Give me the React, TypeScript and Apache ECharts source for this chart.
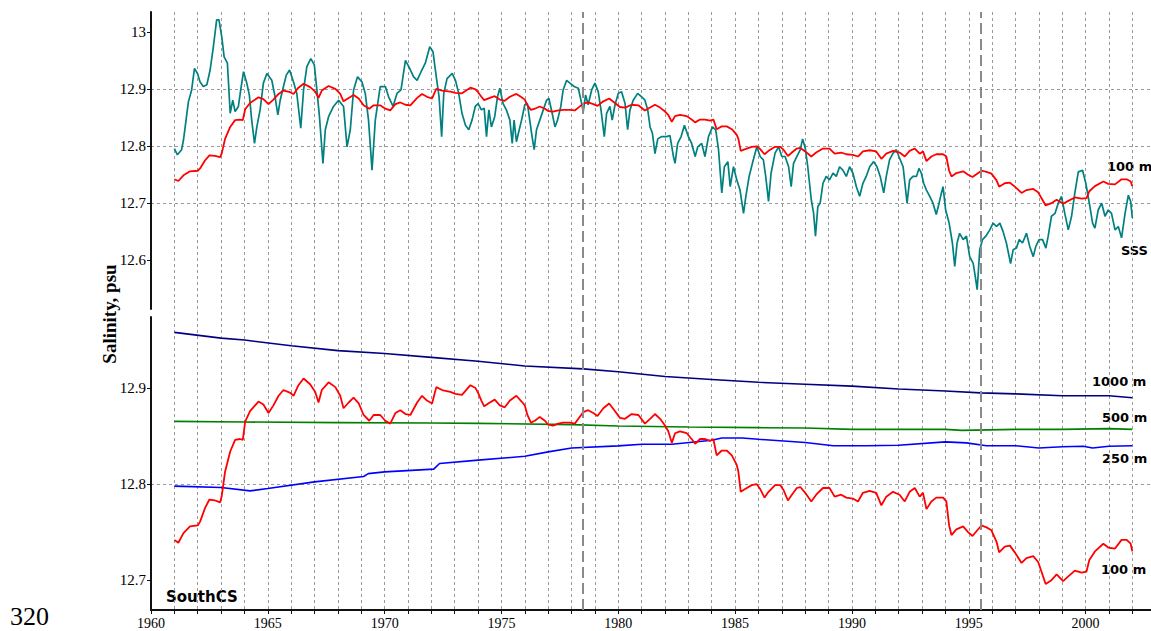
import React, { useEffect, useRef } from "react";
import * as echarts from "echarts";

// ---- data ----
const years100 = [1961.0,1961.17,1961.39,1961.67,1962.0,1962.1,1962.31,1962.5,1962.74,1962.96,1963.03,1963.17,1963.39,1963.6,1963.81,1963.93,1964.03,1964.24,1964.6,1964.81,1965.03,1965.24,1965.46,1965.67,1965.96,1966.1,1966.31,1966.53,1966.81,1967.03,1967.17,1967.31,1967.6,1967.89,1968.1,1968.24,1968.46,1968.67,1968.89,1969.1,1969.34,1969.53,1969.81,1970.03,1970.24,1970.46,1970.67,1970.89,1971.1,1971.39,1971.6,1971.81,1972.03,1972.21,1972.46,1972.81,1973.03,1973.31,1973.67,1973.89,1974.0,1974.14,1974.26,1974.5,1974.71,1974.93,1975.14,1975.36,1975.64,1975.86,1976.0,1976.11,1976.26,1976.43,1976.64,1976.86,1977.0,1977.21,1977.43,1977.64,1977.93,1978.14,1978.29,1978.5,1978.71,1978.93,1979.11,1979.36,1979.61,1979.83,1980.07,1980.29,1980.57,1980.86,1981.14,1981.36,1981.57,1981.79,1982.0,1982.14,1982.29,1982.43,1982.64,1982.93,1983.14,1983.29,1983.5,1983.71,1983.93,1984.07,1984.21,1984.43,1984.64,1984.86,1985.07,1985.14,1985.24,1985.43,1985.71,1985.93,1986.07,1986.26,1986.43,1986.71,1986.93,1987.07,1987.26,1987.43,1987.64,1987.79,1988.0,1988.26,1988.47,1988.76,1989.04,1989.26,1989.54,1989.76,1990.04,1990.26,1990.47,1990.76,1991.04,1991.26,1991.47,1991.76,1992.04,1992.26,1992.47,1992.69,1992.9,1993.04,1993.19,1993.4,1993.61,1993.9,1994.04,1994.16,1994.26,1994.47,1994.76,1994.97,1995.16,1995.33,1995.54,1995.76,1995.97,1996.19,1996.3,1996.54,1996.76,1996.97,1997.26,1997.47,1997.76,1997.97,1998.11,1998.29,1998.54,1998.76,1999.04,1999.26,1999.54,1999.83,2000.04,2000.16,2000.4,2000.76,2000.97,2001.26,2001.54,2001.76,2001.93,2002.0];
const sal100 = [12.742,12.739,12.749,12.756,12.757,12.761,12.775,12.784,12.783,12.781,12.788,12.813,12.834,12.846,12.847,12.846,12.865,12.876,12.886,12.883,12.874,12.882,12.892,12.898,12.895,12.892,12.903,12.910,12.904,12.896,12.885,12.898,12.906,12.901,12.892,12.879,12.885,12.890,12.884,12.872,12.866,12.872,12.872,12.866,12.863,12.874,12.877,12.873,12.872,12.885,12.892,12.887,12.884,12.901,12.898,12.896,12.894,12.893,12.903,12.900,12.895,12.887,12.881,12.885,12.888,12.882,12.880,12.887,12.892,12.886,12.882,12.872,12.864,12.866,12.870,12.866,12.862,12.861,12.863,12.864,12.864,12.863,12.868,12.875,12.877,12.874,12.871,12.879,12.884,12.877,12.869,12.868,12.873,12.872,12.863,12.868,12.873,12.868,12.861,12.855,12.843,12.853,12.855,12.853,12.847,12.842,12.847,12.847,12.845,12.847,12.830,12.835,12.835,12.830,12.820,12.813,12.792,12.795,12.799,12.800,12.795,12.786,12.792,12.799,12.799,12.794,12.783,12.789,12.796,12.797,12.791,12.782,12.789,12.796,12.796,12.787,12.789,12.786,12.785,12.782,12.791,12.793,12.791,12.778,12.787,12.792,12.789,12.782,12.792,12.796,12.787,12.791,12.774,12.782,12.786,12.786,12.782,12.757,12.747,12.753,12.756,12.750,12.746,12.751,12.757,12.755,12.752,12.740,12.729,12.735,12.736,12.729,12.718,12.723,12.725,12.719,12.709,12.696,12.700,12.706,12.699,12.704,12.710,12.708,12.709,12.721,12.730,12.738,12.734,12.733,12.742,12.742,12.738,12.730];

const yearsSSS = [1961.0,1961.13,1961.31,1961.39,1961.5,1961.6,1961.74,1961.86,1961.99,1962.1,1962.24,1962.39,1962.53,1962.67,1962.81,1962.91,1963.03,1963.13,1963.27,1963.39,1963.5,1963.6,1963.74,1963.84,1963.96,1964.1,1964.21,1964.31,1964.43,1964.53,1964.67,1964.81,1964.96,1965.17,1965.31,1965.43,1965.53,1965.67,1965.79,1965.93,1966.1,1966.24,1966.41,1966.53,1966.67,1966.84,1966.99,1967.1,1967.21,1967.36,1967.46,1967.6,1967.81,1968.03,1968.24,1968.39,1968.53,1968.67,1968.84,1969.03,1969.17,1969.31,1969.46,1969.6,1969.81,1970.03,1970.17,1970.36,1970.53,1970.7,1970.89,1971.07,1971.24,1971.39,1971.56,1971.74,1971.93,1972.07,1972.21,1972.33,1972.44,1972.53,1972.67,1972.89,1973.03,1973.17,1973.31,1973.46,1973.6,1973.74,1973.88,1974.0,1974.14,1974.26,1974.36,1974.46,1974.57,1974.71,1974.83,1974.93,1975.07,1975.21,1975.36,1975.46,1975.54,1975.64,1975.76,1975.86,1976.0,1976.11,1976.21,1976.31,1976.4,1976.5,1976.64,1976.79,1976.93,1977.03,1977.17,1977.29,1977.4,1977.54,1977.64,1977.79,1977.93,1978.11,1978.29,1978.4,1978.5,1978.6,1978.71,1978.86,1979.0,1979.14,1979.26,1979.4,1979.5,1979.64,1979.74,1979.86,1980.0,1980.14,1980.29,1980.4,1980.5,1980.64,1980.83,1981.0,1981.14,1981.26,1981.36,1981.46,1981.57,1981.69,1981.86,1982.07,1982.21,1982.36,1982.43,1982.54,1982.69,1982.83,1983.0,1983.14,1983.29,1983.4,1983.57,1983.71,1983.86,1984.03,1984.17,1984.29,1984.43,1984.54,1984.69,1984.79,1984.93,1985.07,1985.21,1985.36,1985.46,1985.6,1985.74,1985.93,1986.07,1986.21,1986.31,1986.43,1986.54,1986.71,1986.86,1987.0,1987.14,1987.29,1987.4,1987.5,1987.64,1987.79,1987.89,1988.0,1988.11,1988.26,1988.36,1988.44,1988.54,1988.64,1988.76,1988.9,1989.04,1989.19,1989.33,1989.47,1989.61,1989.76,1989.9,1990.04,1990.19,1990.33,1990.47,1990.61,1990.76,1990.93,1991.07,1991.21,1991.36,1991.47,1991.61,1991.76,1991.9,1992.01,1992.19,1992.36,1992.47,1992.61,1992.76,1992.87,1992.97,1993.07,1993.19,1993.33,1993.47,1993.61,1993.73,1993.83,1993.9,1994.01,1994.16,1994.3,1994.4,1994.5,1994.61,1994.76,1994.9,1995.04,1995.19,1995.3,1995.36,1995.47,1995.59,1995.73,1995.9,1996.04,1996.19,1996.33,1996.47,1996.61,1996.79,1996.9,1997.04,1997.16,1997.3,1997.47,1997.61,1997.76,1997.87,1998.01,1998.16,1998.3,1998.4,1998.54,1998.69,1998.83,1998.97,1999.11,1999.26,1999.4,1999.54,1999.69,1999.87,2000.01,2000.16,2000.3,2000.4,2000.54,2000.69,2000.83,2000.97,2001.11,2001.26,2001.4,2001.54,2001.69,2001.83,2001.93,2002.0];
const salSSS = [12.796,12.785,12.794,12.811,12.846,12.878,12.899,12.937,12.928,12.913,12.905,12.908,12.934,12.975,13.022,13.022,12.992,12.957,12.946,12.858,12.881,12.861,12.870,12.899,12.931,12.911,12.890,12.846,12.805,12.834,12.864,12.911,12.928,12.916,12.887,12.855,12.881,12.905,12.925,12.934,12.913,12.893,12.832,12.899,12.940,12.954,12.943,12.899,12.852,12.770,12.829,12.852,12.870,12.881,12.870,12.799,12.829,12.899,12.922,12.913,12.893,12.846,12.758,12.846,12.905,12.905,12.887,12.870,12.893,12.899,12.951,12.937,12.922,12.916,12.931,12.946,12.975,12.966,12.922,12.887,12.817,12.893,12.919,12.928,12.916,12.893,12.858,12.837,12.829,12.846,12.870,12.875,12.864,12.867,12.817,12.864,12.834,12.852,12.887,12.902,12.875,12.864,12.846,12.805,12.846,12.808,12.829,12.846,12.873,12.875,12.846,12.817,12.794,12.829,12.846,12.864,12.881,12.884,12.858,12.834,12.846,12.870,12.899,12.916,12.911,12.905,12.902,12.881,12.861,12.890,12.873,12.899,12.911,12.896,12.864,12.817,12.858,12.870,12.846,12.873,12.893,12.896,12.875,12.829,12.864,12.881,12.893,12.887,12.881,12.864,12.834,12.823,12.787,12.813,12.817,12.817,12.819,12.782,12.770,12.805,12.817,12.837,12.817,12.805,12.782,12.799,12.805,12.782,12.817,12.834,12.829,12.794,12.718,12.764,12.773,12.729,12.764,12.741,12.723,12.682,12.712,12.747,12.770,12.799,12.782,12.776,12.747,12.703,12.753,12.788,12.799,12.782,12.782,12.764,12.729,12.770,12.782,12.794,12.813,12.797,12.764,12.706,12.682,12.642,12.694,12.700,12.735,12.747,12.741,12.753,12.747,12.764,12.758,12.747,12.764,12.753,12.729,12.712,12.735,12.747,12.764,12.773,12.764,12.747,12.718,12.747,12.776,12.788,12.794,12.782,12.764,12.700,12.741,12.747,12.747,12.761,12.753,12.735,12.723,12.712,12.700,12.680,12.700,12.718,12.729,12.688,12.665,12.630,12.589,12.630,12.647,12.636,12.642,12.606,12.594,12.565,12.548,12.618,12.636,12.642,12.653,12.665,12.659,12.665,12.650,12.630,12.594,12.618,12.621,12.636,12.630,12.647,12.624,12.606,12.624,12.636,12.636,12.621,12.642,12.677,12.682,12.700,12.712,12.682,12.653,12.677,12.718,12.755,12.758,12.735,12.700,12.665,12.656,12.688,12.700,12.677,12.688,12.682,12.653,12.659,12.639,12.682,12.714,12.703,12.674];

const years1000 = [1961,1963,1964,1966,1968,1970,1972,1974,1976,1978.5,1980,1982,1984,1986,1988,1990,1992,1994,1995.5,1997,1999,2001,2002];
const sal1000 = [12.958,12.952,12.950,12.944,12.939,12.936,12.932,12.928,12.923,12.920,12.917,12.912,12.909,12.906,12.904,12.902,12.899,12.897,12.895,12.894,12.892,12.892,12.890];

const years500 = [1961,1964,1968,1972,1974,1978,1980,1983,1986,1988,1990,1992,1994,1994.7,1997,1999,2001,2002];
const sal500 = [12.8654,12.8647,12.864,12.8637,12.8633,12.862,12.8606,12.8595,12.8588,12.8585,12.857,12.857,12.857,12.856,12.857,12.857,12.8578,12.857];

const years250 = [1961,1963,1964.24,1965,1967,1969.1,1969.3,1970,1972.1,1972.35,1974,1976,1977,1978,1980,1981,1982.3,1984,1984.43,1985.3,1986,1988,1989.2,1990.6,1992,1994,1994.9,1995.76,1997,1998,1999,1999.9,2000.3,2001,2002];
const sal250 = [12.798,12.7965,12.793,12.7955,12.8024,12.808,12.811,12.8128,12.8156,12.8215,12.825,12.829,12.8336,12.8377,12.8398,12.8415,12.8415,12.8457,12.848,12.848,12.8467,12.8433,12.84,12.84,12.8405,12.844,12.843,12.84,12.84,12.8377,12.839,12.8395,12.8377,12.8395,12.84];

const eventYears = [1978.48, 1995.52];
const topTicks = [12.6, 12.7, 12.8, 12.9, 13];
const bottomTicks = [12.7, 12.8, 12.9];
const xLabelYears = [1960, 1965, 1970, 1975, 1980, 1985, 1990, 1995, 2000];

const X_MIN = 1960;
const X_MAX = 2002.8;

const zip = (xs: number[], ys: number[]) => xs.map((x, i) => [x, ys[i]]);

const GRID_COLOR = "#9a9a9a";
const AXIS_COLOR = "#111";
const SERIF = "'Liberation Serif', 'Times New Roman', serif";
const SANS_BOLD = "bold 13px 'DejaVu Sans', Verdana, sans-serif";

function fmtY(v: number) {
  return Math.abs(v - 13) < 1e-9 ? "13" : v.toFixed(1);
}

export default function App() {
  const ref = useRef<HTMLDivElement>(null);

  useEffect(() => {
    if (!ref.current) return;
    const chart = echarts.init(ref.current, null, { renderer: "svg" });

    const yearTicks: number[] = [];
    for (let y = X_MIN; y <= 2002; y++) yearTicks.push(y);

    const option: any = {
      animation: false,
      backgroundColor: "#ffffff",
      grid: [
        { left: 151, right: 0, top: 12, height: 297, containLabel: false },
        { left: 151, right: 0, top: 317, height: 293, containLabel: false },
        { left: 151, right: 0, top: 12, height: 598, containLabel: false },
      ],
      xAxis: [
        { gridIndex: 0, type: "value", min: X_MIN, max: X_MAX, show: false },
        {
          gridIndex: 1,
          type: "value",
          min: X_MIN,
          max: X_MAX,
          axisLine: { show: true, onZero: false, lineStyle: { color: AXIS_COLOR, width: 2 } },
          axisTick: { show: true, length: 4, customValues: yearTicks, lineStyle: { color: AXIS_COLOR, width: 1 } },
          axisLabel: {
            show: true,
            customValues: xLabelYears,
            margin: 6,
            color: "#000",
            fontFamily: SERIF,
            fontSize: 14,
            formatter: (v: number) => String(Math.round(v)),
          },
          splitLine: { show: false },
        },
        {
          gridIndex: 2,
          type: "value",
          min: X_MIN,
          max: X_MAX,
          interval: 1,
          axisLine: { show: false },
          axisTick: { show: false },
          axisLabel: { show: false },
          splitLine: {
            show: true,
            showMinLine: false,
            showMaxLine: false,
            lineStyle: { color: GRID_COLOR, type: [3, 3], width: 1 },
          },
        },
      ],
      yAxis: [
        {
          gridIndex: 0,
          type: "value",
          min: 12.514,
          max: 13.036,
          axisLine: { show: true, onZero: false, lineStyle: { color: AXIS_COLOR, width: 2 } },
          axisTick: { show: true, length: 4, customValues: topTicks, lineStyle: { color: AXIS_COLOR } },
          axisLabel: {
            customValues: topTicks,
            margin: 5,
            color: "#000",
            fontFamily: SERIF,
            fontSize: 15,
            formatter: fmtY,
          },
          splitLine: {
            show: true,
            showMinLine: false,
            showMaxLine: false,
            lineStyle: { color: GRID_COLOR, type: [3, 3], width: 1 },
          },
        },
        {
          gridIndex: 1,
          type: "value",
          min: 12.669,
          max: 12.974,
          axisLine: { show: true, onZero: false, lineStyle: { color: AXIS_COLOR, width: 2 } },
          axisTick: { show: true, length: 4, customValues: bottomTicks, lineStyle: { color: AXIS_COLOR } },
          axisLabel: {
            customValues: bottomTicks,
            margin: 5,
            color: "#000",
            fontFamily: SERIF,
            fontSize: 15,
            formatter: fmtY,
          },
          splitLine: {
            show: true,
            showMinLine: false,
            showMaxLine: false,
            lineStyle: { color: GRID_COLOR, type: [3, 3], width: 1 },
          },
        },
        { gridIndex: 2, type: "value", min: 0, max: 1, show: false },
      ],
      series: [
        {
          type: "line",
          xAxisIndex: 2,
          yAxisIndex: 2,
          data: [],
          silent: true,
          markLine: {
            silent: true,
            symbol: ["none", "none"],
            label: { show: false },
            lineStyle: { color: "#8a8a8a", type: [11, 5], width: 2 },
            data: eventYears.map((x) => ({ xAxis: x })),
          },
        },
        {
          name: "SSS",
          type: "line",
          xAxisIndex: 0,
          yAxisIndex: 0,
          showSymbol: false,
          data: zip(yearsSSS, salSSS),
          lineStyle: { color: "#008080", width: 1.7 },
          itemStyle: { color: "#008080" },
          z: 3,
        },
        {
          name: "100 m top",
          type: "line",
          xAxisIndex: 0,
          yAxisIndex: 0,
          showSymbol: false,
          data: zip(years100, sal100),
          lineStyle: { color: "#ff0000", width: 1.8 },
          itemStyle: { color: "#ff0000" },
          z: 4,
        },
        {
          name: "1000 m",
          type: "line",
          xAxisIndex: 1,
          yAxisIndex: 1,
          showSymbol: false,
          data: zip(years1000, sal1000),
          lineStyle: { color: "#000080", width: 1.6 },
          itemStyle: { color: "#000080" },
        },
        {
          name: "500 m",
          type: "line",
          xAxisIndex: 1,
          yAxisIndex: 1,
          showSymbol: false,
          data: zip(years500, sal500),
          lineStyle: { color: "#008000", width: 1.6 },
          itemStyle: { color: "#008000" },
        },
        {
          name: "250 m",
          type: "line",
          xAxisIndex: 1,
          yAxisIndex: 1,
          showSymbol: false,
          data: zip(years250, sal250),
          lineStyle: { color: "#0000ff", width: 1.6 },
          itemStyle: { color: "#0000ff" },
        },
        {
          name: "100 m",
          type: "line",
          xAxisIndex: 1,
          yAxisIndex: 1,
          showSymbol: false,
          data: zip(years100, sal100),
          lineStyle: { color: "#ff0000", width: 1.8 },
          itemStyle: { color: "#ff0000" },
          z: 4,
        },
      ],
      graphic: [
        {
          type: "text",
          x: 109,
          y: 314,
          rotation: Math.PI / 2,
          style: {
            text: "Salinity, psu",
            font: "bold 19px " + SERIF,
            fill: "#000",
            textAlign: "center",
            textVerticalAlign: "middle",
          },
        },
        {
          type: "text",
          x: 10,
          y: 616,
          style: {
            text: "320",
            font: "26px " + SERIF,
            fill: "#000",
            textAlign: "left",
            textVerticalAlign: "middle",
          },
        },
        {
          type: "text",
          x: 166,
          y: 597,
          style: {
            text: "SouthCS",
            font: "bold 15px 'DejaVu Sans', Verdana, sans-serif",
            fill: "#000",
            textAlign: "left",
            textVerticalAlign: "middle",
          },
        },
        { type: "text", x: 1107, y: 166, style: { text: "100 m", font: SANS_BOLD, fill: "#000", textVerticalAlign: "middle" } },
        { type: "text", x: 1121, y: 250, style: { text: "SSS", font: SANS_BOLD, fill: "#000", textVerticalAlign: "middle" } },
        { type: "text", x: 1092, y: 381, style: { text: "1000 m", font: SANS_BOLD, fill: "#000", textVerticalAlign: "middle" } },
        { type: "text", x: 1102, y: 417, style: { text: "500 m", font: SANS_BOLD, fill: "#000", textVerticalAlign: "middle" } },
        { type: "text", x: 1102, y: 458, style: { text: "250 m", font: SANS_BOLD, fill: "#000", textVerticalAlign: "middle" } },
        { type: "text", x: 1101, y: 569, style: { text: "100 m", font: SANS_BOLD, fill: "#000", textVerticalAlign: "middle" } },
      ],
    };

    chart.setOption(option);
    return () => chart.dispose();
  }, []);

  return (
    <div
      ref={ref}
      style={{ position: "absolute", left: 0, top: 0, width: 1151, height: 631 }}
    />
  );
}
